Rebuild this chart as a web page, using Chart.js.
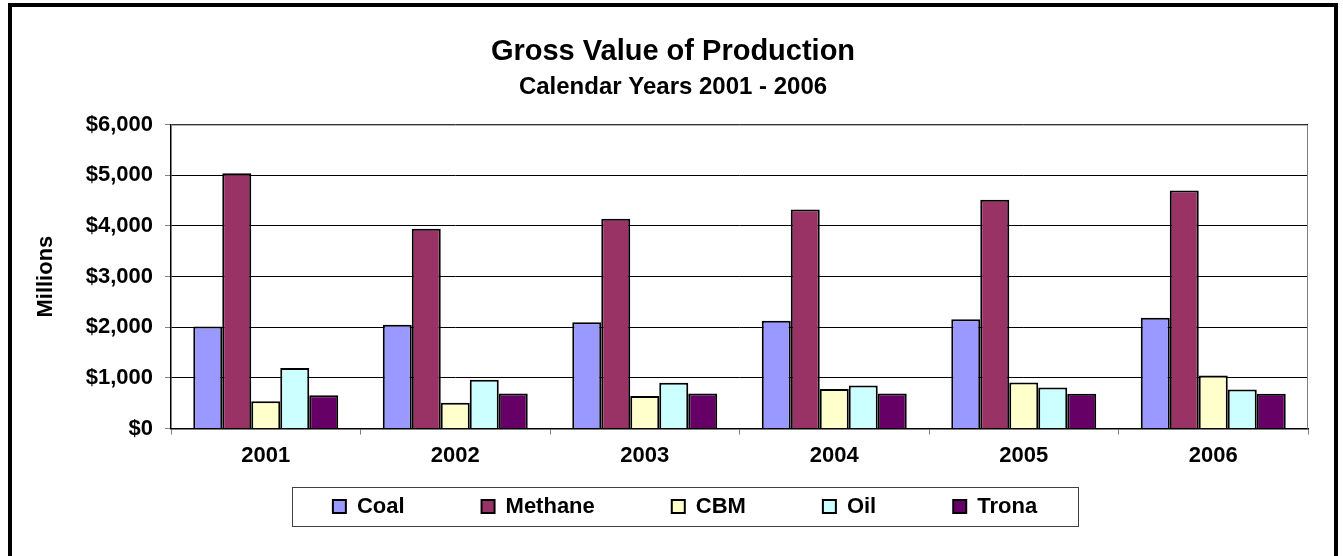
<!DOCTYPE html>
<html>
<head>
<meta charset="utf-8">
<script src="https://cdn.jsdelivr.net/npm/chart.js@4/dist/chart.umd.min.js"></script>
<style>
  html, body { margin: 0; padding: 0; overflow: hidden; background: #ffffff; width: 1343px; height: 556px; }
  #frame { position: absolute; left: 8px; top: 3px; width: 1322px; height: 600px; border: 4px solid #000; box-sizing: content-box; }
  #wrap { position: absolute; left: 0; top: 0; width: 1343px; height: 556px; }
</style>
</head>
<body>
<div id="frame"></div>
<div id="wrap"><canvas id="c" width="1343" height="556"></canvas></div>
<script>
const categories = ['2001', '2002', '2003', '2004', '2005', '2006'];
const coal    = [2015, 2050, 2100, 2130, 2160, 2190];
const methane = [5040, 3945, 4140, 4325, 4515, 4700];
const cbm     = [540, 510, 645, 780, 910, 1050];
const oil     = [1195, 965, 905, 850, 810, 770];
const trona   = [660, 695, 695, 695, 690, 690];
const yTickLabels = ['$0', '$1,000', '$2,000', '$3,000', '$4,000', '$5,000', '$6,000'];
const TITLE = 'Gross Value of Production';
const SUBTITLE = 'Calendar Years 2001 - 2006';
const FONT = "'Liberation Sans', Arial, Helvetica, sans-serif";

function ds(label, data, color) {
  return { label, data, backgroundColor: color, borderColor: '#000000', borderWidth: 2,
           categoryPercentage: 0.765, barPercentage: 1.0 };
}

const layoutFix = {
  id: 'layoutFix',
  afterLayout(chart) {
    for (const b of chart.boxes) {
      if (b.options && (b.options.text === TITLE || b.options.text === SUBTITLE)) {
        b.left += 13; b.right += 13;
      }
    }
    const lg = chart.legend;
    if (lg) {
      const pad = lg.options.labels.padding;
      lg.left += 25; lg.right += 25;
      lg.top = 495.5 - pad; lg.bottom = chart.height;
    }
  },
  beforeDatasetsDraw(chart) {
    const a = chart.chartArea, ctx = chart.ctx;
    ctx.save();
    ctx.strokeStyle = '#808080';
    ctx.lineWidth = 1;
    ctx.beginPath();
    ctx.moveTo(a.left, a.top + 0.5);
    ctx.lineTo(a.right - 0.5, a.top + 0.5);
    ctx.lineTo(a.right - 0.5, a.bottom);
    ctx.stroke();
    ctx.restore();
  },
  afterDraw(chart) {
    const hb = chart.legend && chart.legend.legendHitBoxes;
    if (!hb || !hb.length) return;
    const ctx = chart.ctx;
    const first = hb[0], last = hb[hb.length - 1];
    const cy = first.top + first.height / 2;
    const l = Math.round(first.left - 41) + 0.5;
    const r = Math.round(last.left + last.width + 41) + 0.5;
    const t = Math.round(cy - 19.5) + 0.5;
    const bt = Math.round(cy + 19.5) + 0.5;
    ctx.save();
    ctx.strokeStyle = '#404040';
    ctx.lineWidth = 1;
    ctx.strokeRect(l, t, r - l, bt - t);
    ctx.restore();
  }
};

new Chart(document.getElementById('c'), {
  type: 'bar',
  data: {
    labels: categories,
    datasets: [
      ds('Coal', coal, '#9999FF'),
      ds('Methane', methane, '#993366'),
      ds('CBM', cbm, '#FFFFCC'),
      ds('Oil', oil, '#CCFFFF'),
      ds('Trona', trona, '#660066')
    ]
  },
  options: {
    responsive: false,
    animation: false,
    devicePixelRatio: 1,
    layout: { padding: { left: 12, right: 35, top: 12, bottom: 19 } },
    plugins: {
      title: {
        display: true, text: TITLE, color: '#000',
        font: { family: FONT, size: 29, weight: 'bold', lineHeight: 1.2 },
        padding: { top: 22.6, bottom: 3.2 }
      },
      subtitle: {
        display: true, text: SUBTITLE, color: '#000',
        font: { family: FONT, size: 24, weight: 'bold', lineHeight: 1.2 },
        padding: { top: 0, bottom: 23.2 }
      },
      legend: {
        display: true, position: 'bottom', maxHeight: 60,
        labels: {
          boxWidth: 13, boxHeight: 13, padding: 77, color: '#000',
          font: { family: FONT, size: 22, weight: 'bold' }
        }
      },
      tooltip: { enabled: false }
    },
    scales: {
      x: {
        offset: true,
        grid: { display: true, drawOnChartArea: false, drawTicks: true, tickLength: 6, tickColor: '#808080', offset: true },
        border: { display: true, color: '#000', width: 1.5 },
        ticks: { color: '#000', padding: 8, font: { family: FONT, size: 22, weight: 'bold' } }
      },
      y: {
        min: 0, max: 6000,
        afterFit(scale) { scale.width = 159; },
        grid: { color: '#000', lineWidth: 1, drawTicks: true, tickLength: 6, tickColor: '#808080' },
        border: { display: true, color: '#000', width: 1.5 },
        ticks: {
          stepSize: 1000, color: '#000', padding: 12,
          font: { family: FONT, size: 22, weight: 'bold' },
          callback: (v) => yTickLabels[Math.round(v / 1000)]
        },
        title: {
          display: true, text: 'Millions', color: '#000',
          font: { family: FONT, size: 22, weight: 'bold', lineHeight: 1.2 },
          padding: { top: 21, bottom: 0 }
        }
      }
    }
  },
  plugins: [layoutFix]
});
</script>
</body>
</html>
